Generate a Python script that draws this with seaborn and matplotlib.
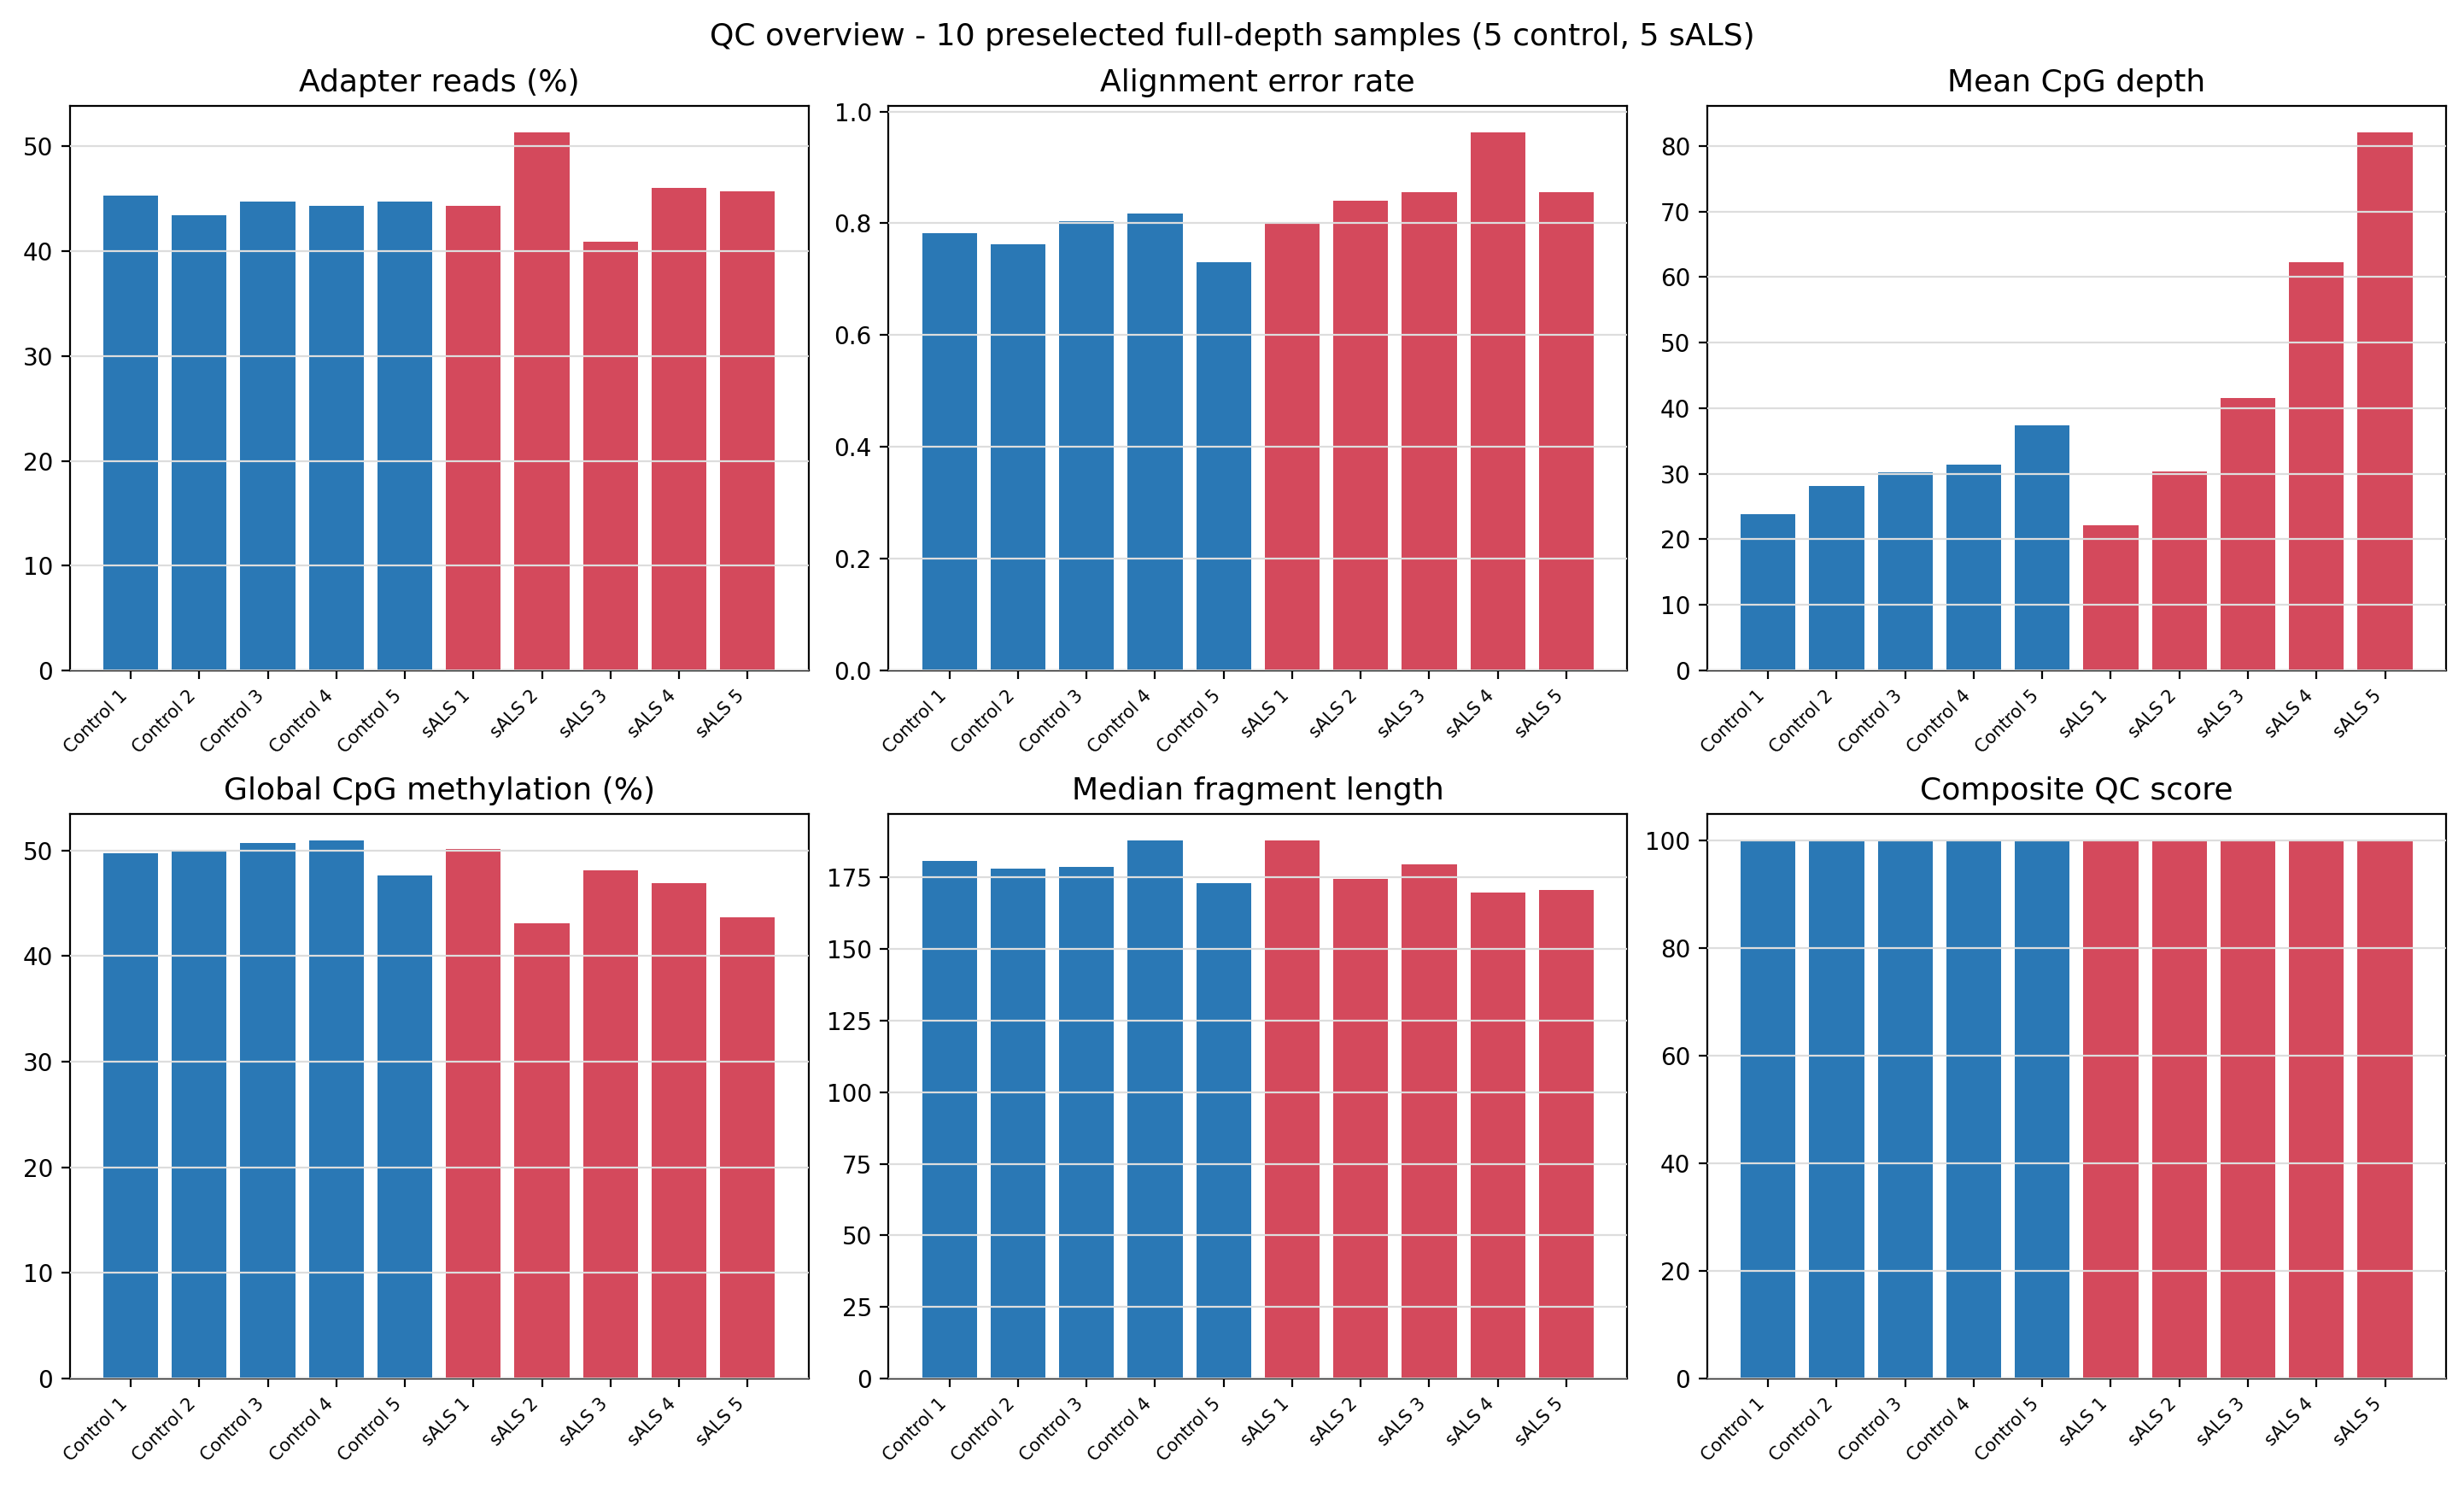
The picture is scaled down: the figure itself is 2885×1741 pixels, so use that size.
import pandas as pd
import matplotlib
matplotlib.use('Agg')
import matplotlib.pyplot as plt
import seaborn as sns

samples = ['Control 1', 'Control 2', 'Control 3', 'Control 4', 'Control 5',
           'sALS 1', 'sALS 2', 'sALS 3', 'sALS 4', 'sALS 5']
groups = ['Control'] * 5 + ['sALS'] * 5

adapter_pct = [45.3, 43.4, 44.75, 44.3, 44.75, 44.3, 51.3, 40.9, 46.0, 45.7]
align_err = [0.783, 0.763, 0.804, 0.818, 0.731, 0.799, 0.841, 0.856, 0.962, 0.855]
cpg_depth = [23.9, 28.1, 30.2, 31.4, 37.4, 22.2, 30.3, 41.5, 62.3, 82.0]
global_meth = [49.75, 49.93, 50.7, 50.9, 47.6, 50.1, 43.1, 48.1, 46.9, 43.7]
frag_len = [180.9, 178.0, 178.7, 187.8, 172.9, 187.8, 174.6, 179.7, 169.8, 170.7]
qc_score = [100, 100, 100, 100, 100, 100, 100, 100, 100, 100]

panels = [
    ('Adapter reads (%)', adapter_pct),
    ('Alignment error rate', align_err),
    ('Mean CpG depth', cpg_depth),
    ('Global CpG methylation (%)', global_meth),
    ('Median fragment length', frag_len),
    ('Composite QC score', qc_score),
]

palette = {'Control': '#2a78b5', 'sALS': '#d4495c'}

fig, axes = plt.subplots(2, 3, figsize=(14.425, 8.705), dpi=200)

for ax, (title, vals) in zip(axes.flat, panels):
    df = pd.DataFrame({'sample': samples, 'group': groups, 'value': vals})
    sns.barplot(data=df, x='sample', y='value', hue='group', palette=palette,
                dodge=False, legend=False, saturation=1, width=0.8, ax=ax)
    ax.set_xlim(-0.89, 9.89)
    ax.set_title(title, fontsize=13)
    ax.set_xlabel('')
    ax.set_ylabel('')
    ax.yaxis.grid(True, color='#dddddd', linewidth=0.8)
    ax.set_axisbelow(False)
    ax.tick_params(axis='y', labelsize=10)
    plt.setp(ax.get_xticklabels(), rotation=45, ha='right', fontsize=7.5)

fig.suptitle('QC overview - 10 preselected full-depth samples (5 control, 5 sALS)', fontsize=13, y=0.985)
plt.subplots_adjust(left=0.0283, right=0.9927, top=0.9288, bottom=0.0729, wspace=0.108, hspace=0.254)
plt.savefig('out.png', dpi=200)
